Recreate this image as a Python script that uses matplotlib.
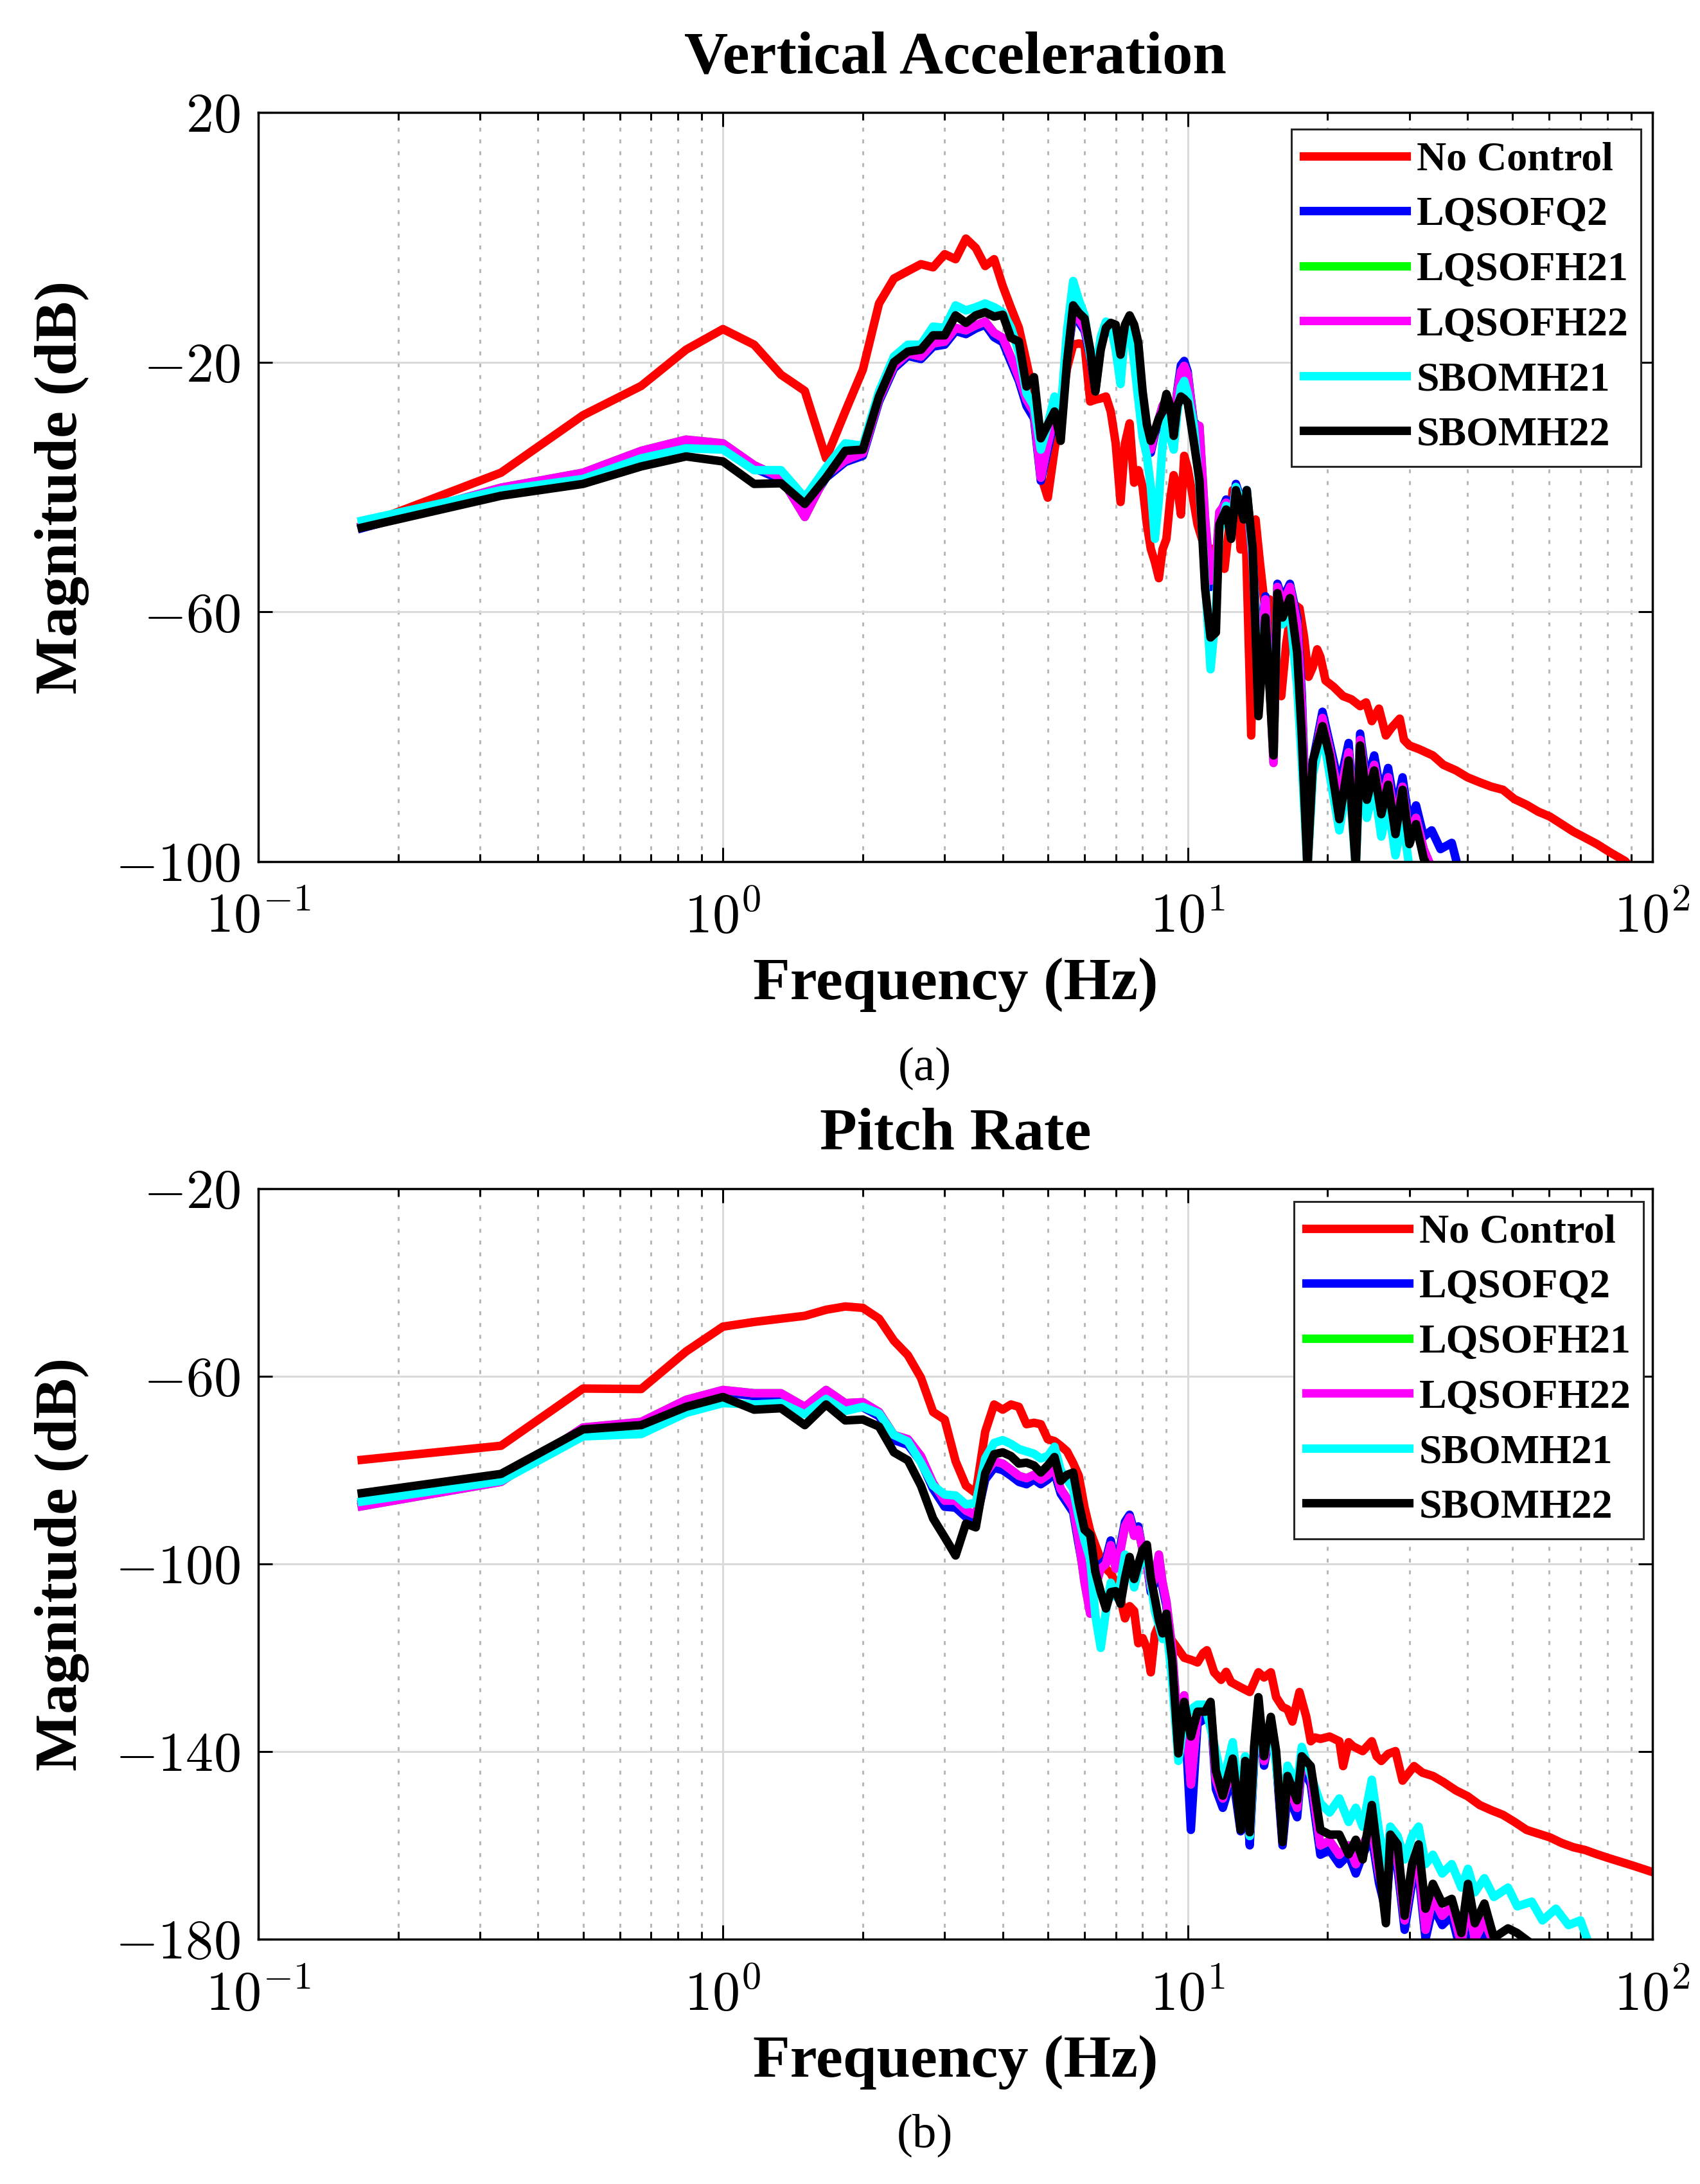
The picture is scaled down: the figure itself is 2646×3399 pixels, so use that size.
import numpy as np
import matplotlib
matplotlib.use('Agg')
import matplotlib.pyplot as plt
from matplotlib.ticker import FuncFormatter, LogLocator, NullLocator, FixedLocator

# ---------------- data ----------------
names = ['No Control', 'LQSOFQ2', 'LQSOFH21', 'LQSOFH22', 'SBOMH21', 'SBOMH22']
colors = ['#ff0000', '#0000ff', '#00ff00', '#ff00ff', '#00ffff', '#000000']

# (a) Vertical Acceleration --------------------------------------
f_low_a = [0.167, 0.333, 0.5, 0.667, 0.833, 1.0, 1.167, 1.333, 1.5, 1.667,
           1.833, 2.0, 2.167, 2.333, 2.5, 2.667, 2.833, 3.0, 3.167, 3.333,
           3.5, 3.667, 3.833, 4.0, 4.167, 4.333]

va_nc_low = [-46.2, -37.7, -28.5, -23.8, -18.0, -14.7, -17.2, -22.0, -24.6, -35.4,
             -27.9, -21.2, -10.6, -6.6, -5.4, -4.3, -4.8, -2.7, -3.5, -0.2,
             -1.7, -4.6, -3.5, -7.8, -11.3, -14.5]
va_q2_low = [-46.6, -40.5, -38.2, -34.8, -33.0, -33.4, -37.0, -38.8, -44.0, -38.5,
             -36.0, -35.0, -26.3, -21.0, -19.0, -19.5, -17.5, -17.2, -15.0, -15.5,
             -14.6, -14.0, -16.0, -16.8, -20.0, -23.0]
va_h22_low = [-46.3, -40.1, -37.7, -34.2, -32.4, -33.0, -36.5, -38.5, -44.8, -38.1,
              -35.7, -34.6, -25.9, -20.6, -18.6, -19.1, -17.0, -16.7, -14.5, -14.9,
              -14.1, -13.5, -15.3, -16.1, -19.2, -22.4]
va_h21_low = va_h22_low  # hidden under LQSOFH22 at this resolution
va_s21_low = [-45.4, -40.5, -38.7, -35.4, -33.8, -34.0, -37.3, -37.3, -41.7, -36.9,
              -33.0, -33.4, -24.7, -19.1, -17.2, -17.2, -14.3, -14.5, -10.9, -11.7,
              -11.2, -10.6, -11.2, -12.0, -14.5, -18.4]
va_s22_low = [-46.5, -41.4, -39.5, -36.7, -35.1, -35.9, -39.5, -39.4, -42.7, -38.5,
              -34.2, -34.0, -25.5, -20.0, -18.3, -18.0, -15.7, -15.7, -12.5, -13.7,
              -12.5, -12.0, -12.7, -12.4, -16.1, -16.7]

f_nc_hi_a = [4.5, 4.67, 4.83, 5.0, 5.17, 5.33, 5.5, 5.67, 5.83, 6.0,
             6.17, 6.33, 6.5, 6.67, 6.83, 7.0, 7.17, 7.33, 7.5, 7.67,
             7.83, 8.0, 8.17, 8.33, 8.5, 8.67, 8.83, 9.0, 9.17, 9.33,
             9.5, 9.67, 9.83, 10.0, 10.2, 10.5, 10.8, 11.0, 11.5, 12.0,
             12.3, 12.5, 12.8, 13.0, 13.3, 13.7, 14.0, 14.3, 14.7, 15.0,
             15.5, 15.9, 16.3, 16.8, 17.4, 17.8, 18.2, 18.6, 19.0, 19.3,
             19.8, 20.6, 21.6, 22.5, 23.5, 24.2, 24.9, 25.8, 26.7, 27.5,
             28.6, 29.2, 30.0, 31.5, 33.7, 35.5, 37.8, 40.0, 42.5, 45.0,
             47.7, 50.5, 53.6, 56.8, 60.2, 63.8, 67.6, 71.7, 76.0, 81.0,
             87.3, 90.0]
va_nc_hi = [-20, -25.5, -38.1, -41.7, -34, -28, -21, -17.2, -17.0, -17.2,
            -26.3, -26.0, -25.8, -25.5, -27.9, -33, -42.4, -33, -29.8, -39.3,
            -37.3, -40, -46.0, -49.9, -52, -54.6, -50, -48.3, -42, -38.1,
            -40, -44.4, -35.0, -37, -40.5, -46.0, -49, -49.9, -49.9, -53.1,
            -46, -40.5, -42, -50, -44.4, -79.8, -45.2, -52, -60, -58,
            -68, -73.5, -65, -58.6, -59.4, -64, -70.4, -68.8, -66, -67.2,
            -71, -72.0, -73.5, -74, -75.1, -74.5, -77.5, -75.5, -79.8, -78.5,
            -77.1, -80.5, -81.4, -82, -83.0, -84.5, -85.4, -86.5, -87.3, -88,
            -88.5, -90, -90.9, -92, -92.8, -94, -95.2, -96.2, -97.2, -98.5,
            -99.9, -101]

f_ctl_hi_a = [4.5, 4.67, 4.83, 5.0, 5.17, 5.33, 5.5, 5.67, 5.83, 6.0,
              6.17, 6.33, 6.5, 6.67, 6.83, 7.0, 7.17, 7.33, 7.5, 7.67,
              7.83, 8.0, 8.17, 8.33, 8.5, 8.67, 8.83, 9.0, 9.17, 9.33,
              9.5, 9.67, 9.83, 10.0, 10.3, 10.6, 10.9, 11.2, 11.5, 11.7,
              12.1, 12.4, 12.7, 13.2, 13.4, 13.8, 14.2, 14.7, 15.3, 15.6,
              16.0, 16.6, 17.2, 17.6, 18.1, 18.6, 19.5, 20.2, 21.2, 22.2,
              23.0, 23.5, 24.3, 25.2, 26.1, 27.0, 28.0, 29.0, 30.0, 31.0,
              32.2, 33.5, 35.0, 37.0, 38.5]
va_q2_hi = [-27, -29, -39, -34, -29, -31, -19.5, -12.5, -13.5, -15,
            -19, -24.5, -17.5, -14.5, -15, -16.5, -20.5, -15.5, -14, -15.5,
            -19.5, -26.5, -31.5, -34.5, -31.5, -29.5, -27.5, -26.5, -28.5, -30,
            -24.5, -20.5, -19.8, -21.5, -29.5, -30.5, -46, -56, -53, -44.5,
            -42, -45.5, -39.5, -43.5, -40.5, -51, -68, -57.5, -82, -55.5,
            -58, -55.5, -61, -73, -99, -84, -76, -81, -88, -81,
            -98, -79.5, -87.5, -83, -89.5, -85, -92, -86.5, -94, -91,
            -96, -95, -98, -97, -102]
va_h22_hi = [-26, -28, -38.5, -33, -28.5, -30, -19, -12, -13, -14.5,
             -18.5, -24, -17, -14.0, -14.5, -16, -20, -15, -13.5, -15,
             -19, -26, -31, -34, -31, -29, -27, -26, -28, -30,
             -25, -21.5, -20.6, -22, -30, -30.2, -45, -55, -52, -44,
             -42.5, -46, -40, -44, -41, -52, -70, -58, -84.2, -56,
             -59, -56, -62, -75, -101, -85, -77, -82, -90, -82.5,
             -100, -80.5, -89, -84.5, -91, -86.5, -94, -88, -96, -93,
             -98, -101, -104, -106, -108]
va_h21_hi = va_h22_hi
va_s21_hi = [-25, -27, -34, -30, -25.5, -28, -15, -7.0, -10, -12.5,
             -19, -22, -16, -13.5, -14, -18, -23.5, -15, -14, -20,
             -26, -32, -35, -40, -48.3, -42, -33, -29, -32, -34,
             -28, -24, -23, -25, -30, -40, -55, -69.2, -60, -47,
             -43, -47, -40, -44, -40.5, -51, -72, -62, -80, -58,
             -62, -60, -72, -84, -101, -86, -79, -86, -95, -86,
             -101, -84, -93, -88, -96, -91, -99, -93, -101, -103,
             -105, -107, -109, -110, -112]
va_s22_hi = [-23.9, -22.4, -32.2, -30, -27.9, -32.6, -20, -10.9, -12.1, -13,
             -18, -24.7, -18, -14.5, -13.7, -14, -18.8, -14, -12.5, -14,
             -16.9, -24.7, -30, -32.6, -31.0, -29, -27.9, -25.1, -27, -31.8,
             -27, -25.5, -25.9, -26.5, -32.6, -38.9, -56.2, -64.1, -63.3, -46.0,
             -43.6, -48.3, -40.5, -45.2, -40.5, -49.9, -76.7, -60.9, -83.0, -57.0,
             -60.9, -57.8, -66.5, -79.8, -101, -83.8, -78.3, -83.0, -93.2, -83.8,
             -101, -81.4, -90.1, -85.4, -92.4, -87.7, -95.6, -88.5, -97.2, -94.0,
             -99.5, -102, -104, -106, -108]

# (b) Pitch Rate ---------------------------------------------------
f_low_b = [0.167, 0.333, 0.5, 0.667, 0.833, 1.0, 1.167, 1.333, 1.5, 1.667,
           1.833, 2.0, 2.167, 2.333, 2.5, 2.667, 2.833, 3.0, 3.167, 3.333,
           3.5, 3.667, 3.833, 4.0, 4.167, 4.333, 4.5]

pr_nc_low = [-77.8, -74.8, -62.6, -62.7, -54.7, -49.4, -48.4, -47.7, -47.1, -45.8,
             -45.1, -45.4, -47.7, -52.4, -55.5, -60.3, -67.6, -69.2, -78.1, -83.3,
             -84.9, -71.8, -66.0, -67.1, -66.0, -66.5, -70.2]
pr_q2_low = [-87.2, -82.4, -71.2, -70.0, -65.4, -63.4, -64.2, -64.5, -67.3, -64.0,
             -66.8, -66.6, -68.5, -73.6, -74.6, -78.2, -84.0, -87.8, -88.0, -90.0,
             -91.0, -82.0, -79.5, -80.0, -81.2, -82.5, -83.0]
pr_h22_low = [-87.7, -82.5, -70.9, -69.7, -65.0, -62.9, -63.6, -63.6, -66.5, -62.9,
              -65.7, -65.5, -67.6, -72.5, -73.4, -77.0, -82.8, -86.5, -86.5, -88.6,
              -89.6, -80.7, -78.1, -78.6, -79.9, -81.2, -81.7]
pr_h21_low = pr_h22_low
pr_s21_low = [-86.7, -82.3, -72.8, -72.3, -67.8, -65.7, -66.0, -65.7, -68.1, -64.8,
              -67.4, -66.5, -67.9, -72.5, -73.9, -78.4, -83.3, -85.2, -85.4, -87.3,
              -87.0, -77.5, -74.2, -73.6, -74.4, -75.5, -76.0]
pr_s22_low = [-84.9, -80.8, -71.3, -70.4, -66.5, -64.4, -67.1, -66.8, -70.4, -66.0,
              -69.4, -69.2, -70.7, -76.2, -77.9, -83.3, -90.3, -94.3, -98.2, -91.4,
              -92.2, -80.7, -76.6, -76.2, -77.0, -78.6, -78.4]

f_nc_hi_b = [4.67, 4.83, 5.0, 5.17, 5.33, 5.5, 5.67, 5.83, 6.0, 6.17,
             6.33, 6.5, 6.67, 6.83, 7.0, 7.17, 7.33, 7.5, 7.67, 7.83,
             8.0, 8.17, 8.33, 8.5, 8.67, 8.83, 9.0, 9.17, 9.5, 9.83,
             10.2, 10.5, 10.8, 11.0, 11.4, 11.8, 12.1, 12.4, 13.0, 13.6,
             14.2, 14.6, 15.1, 15.5, 16.0, 16.4, 16.8, 17.4, 18.0, 18.4,
             18.8, 19.3, 20.2, 21.2, 21.6, 22.2, 22.7, 23.8, 24.9, 25.5,
             26.1, 27.0, 28.0, 29.0, 30.7, 32.0, 33.7, 35.5, 37.8, 40.0,
             42.5, 45.0, 47.7, 50.5, 53.6, 56.8, 60.2, 63.8, 67.6, 71.7,
             76.0, 81.0, 85.4, 92.0, 99.4]
pr_nc_hi = [-69.9, -70.2, -73.4, -73.8, -74.8, -76.0, -78.5, -81.2, -88, -93,
            -96, -99.0, -101, -102, -104, -107.4, -111.6, -109, -110, -116.9,
            -115.8, -118, -123.1, -115, -113, -112.7, -114, -115.8, -117.9, -120.0,
            -120.5, -121.0, -119, -118.4, -123.1, -124.7, -123, -125.2, -126.3, -127.3,
            -123.1, -124.2, -123.1, -128.4, -130.5, -131, -133.6, -127.3, -132.6, -137.8,
            -137, -137.3, -136.8, -137.8, -143.1, -138, -138.9, -139.9, -137.8, -141,
            -142.0, -140.5, -139.9, -146.2, -143.1, -144.5, -145.2, -146.5, -148.3, -149.5,
            -151.4, -152.5, -153.5, -155, -156.7, -157.5, -158.3, -159.5, -160.4, -161,
            -161.9, -162.8, -163.5, -164.5, -165.6]

f_ctl_hi_b = [4.67, 4.83, 5.0, 5.17, 5.33, 5.5, 5.67, 5.83, 6.0, 6.17,
              6.33, 6.5, 6.67, 6.83, 7.0, 7.17, 7.33, 7.5, 7.67, 7.83,
              8.0, 8.17, 8.33, 8.5, 8.67, 8.83, 9.0, 9.26, 9.55, 9.83,
              10.16, 10.5, 10.9, 11.2, 11.5, 11.9, 12.5, 13.0, 13.3, 13.6,
              13.9, 14.2, 14.6, 15.1, 15.5, 16.0, 16.4, 17.2, 17.6, 18.4,
              19.3, 20.2, 21.2, 22.2, 23.0, 23.8, 24.9, 25.8, 26.7, 27.3,
              28.3, 29.3, 30.4, 31.4, 32.5, 33.7, 35.3, 37.0, 38.8, 40.1,
              41.5, 43.5, 45.6, 48.9, 51.2, 55.0, 58.0, 62.0, 66.0, 70.0,
              73.0]
pr_q2_hi = [-82, -83, -82, -80.5, -85, -87, -89, -96, -103, -108,
            -104, -100, -99, -95, -100, -96, -91, -89.5, -93, -92,
            -97, -100, -106, -104, -99, -105, -109, -120, -138, -130,
            -156.7, -134, -133, -131, -148, -152, -145, -157, -145, -160,
            -142, -132, -143, -135, -142, -160, -149, -154, -143, -147,
            -162, -161, -164, -162, -166, -162, -158, -168, -174, -162,
            -165, -178, -168, -166, -180, -173, -177, -175, -183, -174,
            -182, -178, -183, -185, -187, -189, -191, -193, -195, -197,
            -199]
pr_h22_hi = [-81, -82, -81, -79.5, -84, -86, -88, -95, -104, -110.6,
             -105, -101, -100, -96, -101, -97, -92, -90.1, -94, -92.7,
             -97, -100, -105, -103, -98, -104, -108, -118, -136, -128,
             -147, -132, -131, -130, -146, -150, -143, -155, -143, -158,
             -141, -131, -142, -134, -141, -158, -147, -152, -142, -145,
             -160, -159, -162, -160, -164, -160, -156, -166, -172, -160,
             -163, -176, -166, -164, -178, -171, -175, -173, -181, -172,
             -180, -176, -181, -183, -185, -187, -189, -191, -193, -195,
             -197]
pr_h21_hi = pr_h22_hi
pr_s21_hi = [-76.5, -77.5, -77, -75, -80, -82, -84, -90, -95, -99,
             -111, -117.9, -110, -104, -107, -104, -98, -100, -105, -101,
             -99, -98, -104, -110, -113, -116, -113, -125, -142, -133,
             -131, -130, -130, -135, -140, -147, -138, -152, -141, -158,
             -141, -131, -140, -134, -143, -155, -143, -147, -139, -145,
             -151, -153, -150, -155, -152, -156, -146, -157, -165, -156,
             -158, -163, -158, -156, -164, -162, -166, -164, -169, -165,
             -170, -167, -171, -169, -173, -172, -176, -173.5, -177, -176,
             -181]
pr_s22_hi = [-79, -80.5, -79, -77.2, -82.3, -81, -80.5, -87, -92.7, -93.8,
             -101.7, -106, -109.5, -106, -105.8, -108.5, -103, -98.5, -103.2, -100,
             -97, -95.9, -103, -107.4, -112, -114.8, -110.6, -120.5, -140.4, -129.4,
             -136.8, -131.5, -131.5, -129.4, -144.1, -149.4, -141.5, -156.7, -142.0, -157.2,
             -138.9, -128.4, -141.0, -132.6, -139.9, -159.3, -145.2, -150.4, -141.0, -143.1,
             -156.7, -157.7, -157.7, -161.9, -158.8, -163.0, -151.4, -164.0, -176.6, -157.7,
             -159.8, -175.0, -164.0, -159.8, -173.5, -168.2, -172.4, -171.4, -178.7, -168.2,
             -176.6, -172.4, -179.7, -177.7, -178.7, -181, -183, -185, -187, -189,
             -190]

# ---------------- style ----------------
plt.rcParams['font.family'] = ['Liberation Serif', 'DejaVu Serif']
plt.rcParams['mathtext.fontset'] = 'cm'

LW = 9.5
LAB = 68
TICK = 62

fig = plt.figure(figsize=(26.46, 33.99), dpi=100)
ax1 = fig.add_axes([0.1519, 0.6055, 0.8201, 0.3430])
ax2 = fig.add_axes([0.1519, 0.1121, 0.8201, 0.3436])


def style(ax, ylim, yticks, title, tag, tag_y):
    ax.set_xscale('log')
    ax.set_xlim(0.1, 100)
    ax.set_ylim(*ylim)
    ax.yaxis.set_major_locator(FixedLocator(yticks))
    ax.yaxis.set_minor_locator(NullLocator())
    ax.xaxis.set_major_locator(LogLocator(base=10, numticks=10))
    ax.xaxis.set_minor_locator(LogLocator(base=10, subs=np.arange(2, 10), numticks=30))
    ax.xaxis.set_major_formatter(FuncFormatter(lambda v, p: r'$10^{%d}$' % round(np.log10(v))))
    ax.yaxis.set_major_formatter(FuncFormatter(lambda v, p: r'$%d$' % v))
    ax.tick_params(which='both', direction='in', top=True, right=True, width=2.2,
                   labelsize=TICK, pad=20)
    ax.tick_params(axis='x', which='both', pad=36)
    ax.tick_params(which='major', length=16)
    ax.tick_params(which='minor', length=8.5)
    for s in ax.spines.values():
        s.set_linewidth(2.5)
    ax.set_axisbelow(True)
    ax.grid(which='major', color='#dadada', lw=2.2, ls='-')
    ax.grid(which='minor', axis='x', color='#b8b8b8', lw=2.2, ls=(0, (2, 4)))
    ax.set_title(title, fontsize=LAB, fontweight='bold', pad=44)
    ax.set_xlabel('Frequency (Hz)', fontsize=LAB, fontweight='bold', labelpad=14)
    ax.set_ylabel('Magnitude (dB)', fontsize=LAB, fontweight='bold')
    ax.yaxis.set_label_coords(-0.121, 0.5)
    fig.text(0.544, tag_y, tag, fontsize=54, ha='center', va='center')


# panel (a)
curves_a = [
    (f_low_a + f_nc_hi_a, va_nc_low + va_nc_hi),
    (f_low_a + f_ctl_hi_a, va_q2_low + va_q2_hi),
    (f_low_a + f_ctl_hi_a, va_h21_low + va_h21_hi),
    (f_low_a + f_ctl_hi_a, va_h22_low + va_h22_hi),
    (f_low_a + f_ctl_hi_a, va_s21_low + va_s21_hi),
    (f_low_a + f_ctl_hi_a, va_s22_low + va_s22_hi),
]
for (f, m), name, c in zip(curves_a, names, colors):
    ax1.plot(f, m, color=c, lw=LW, label=name, solid_joinstyle='round')
style(ax1, (-100, 20), [-100, -60, -20, 20], 'Vertical Acceleration', '(a)', 0.5107)

# panel (b)
curves_b = [
    (f_low_b + f_nc_hi_b, pr_nc_low + pr_nc_hi),
    (f_low_b + f_ctl_hi_b, pr_q2_low + pr_q2_hi),
    (f_low_b + f_ctl_hi_b, pr_h21_low + pr_h21_hi),
    (f_low_b + f_ctl_hi_b, pr_h22_low + pr_h22_hi),
    (f_low_b + f_ctl_hi_b, pr_s21_low + pr_s21_hi),
    (f_low_b + f_ctl_hi_b, pr_s22_low + pr_s22_hi),
]
for (f, m), name, c in zip(curves_b, names, colors):
    ax2.plot(f, m, color=c, lw=LW, label=name, solid_joinstyle='round')
style(ax2, (-180, -20), [-180, -140, -100, -60, -20], 'Pitch Rate', '(b)', 0.0223)

for ax, anchor in ((ax1, (0.9917, 0.9777)), (ax2, (0.9935, 0.9829))):
    leg = ax.legend(loc='upper right', bbox_to_anchor=anchor, borderaxespad=0,
                    prop={'weight': 'bold', 'size': 46},
                    handlelength=2.5, handletextpad=0.25, labelspacing=0.42,
                    borderpad=0.3, fancybox=False, framealpha=1)
    leg.get_frame().set_edgecolor('#262626')
    leg.get_frame().set_linewidth(2.2)
    for ln in leg.get_lines():
        ln.set_linewidth(LW)

fig.savefig('out.png', dpi=100)
